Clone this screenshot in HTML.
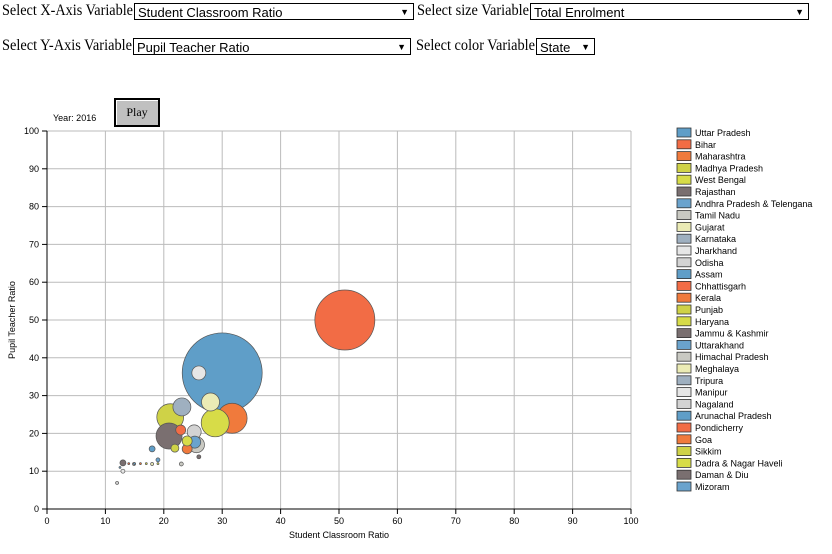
<!DOCTYPE html>
<html><head><meta charset="utf-8">
<style>
body{margin:0;width:832px;height:554px;background:#fff;position:relative;overflow:hidden;font-family:"Liberation Serif",serif;}
.lbl{position:absolute;font-size:16px;color:#000;white-space:nowrap;transform-origin:0 0;}
.sel{position:absolute;height:17px;border:1px solid #000;background:#fff;font-family:"Liberation Sans",sans-serif;font-size:13px;line-height:17px;padding-left:3px;box-sizing:border-box;}
.sel span.arr{position:absolute;right:4px;top:0;font-size:9px;}
#play{position:absolute;left:114px;top:98px;width:46px;height:29px;box-sizing:border-box;border:2px solid #000;background:#c0c0c0;font-family:"Liberation Serif",serif;font-size:12px;text-align:center;line-height:25px;box-shadow:inset 1px 1px 0 #fff;}
svg{position:absolute;left:0;top:0;}
</style></head><body>
<div class="lbl" data-w="131" style="left:2px;top:2px">Select X-Axis Variable</div>
<div class="sel" style="left:134px;top:3px;width:280px">Student Classroom Ratio<span class="arr">▼</span></div>
<div class="lbl" data-w="112" style="left:417px;top:2px">Select size Variable</div>
<div class="sel" style="left:530px;top:3px;width:279px">Total Enrolment<span class="arr">▼</span></div>
<div class="lbl" data-w="130" style="left:2px;top:37px">Select Y-Axis Variable</div>
<div class="sel" style="left:133px;top:38px;width:278px">Pupil Teacher Ratio<span class="arr">▼</span></div>
<div class="lbl" data-w="119" style="left:416px;top:37px">Select color Variable</div>
<div class="sel" style="left:536px;top:38px;width:59px">State<span class="arr">▼</span></div>
<div id="play">Play</div>
<svg id="chart" width="832" height="554"></svg>
<script>
const states=["Uttar Pradesh","Bihar","Maharashtra","Madhya Pradesh","West Bengal","Rajasthan","Andhra Pradesh & Telengana","Tamil Nadu","Gujarat","Karnataka","Jharkhand","Odisha","Assam","Chhattisgarh","Kerala","Punjab","Haryana","Jammu & Kashmir","Uttarakhand","Himachal Pradesh","Meghalaya","Tripura","Manipur","Nagaland","Arunachal Pradesh","Pondicherry","Goa","Sikkim","Dadra & Nagar Haveli","Daman & Diu","Mizoram"];
const xVals=[30,51,31.7,21.1,28.8,20.9,25.3,25.6,28,23.1,26,25.2,18,22.9,24,21.9,24,26,19,23,18,14.9,13,12,15,14,16,17,19,13,12.5];
const yVals=[36,50,24,24.3,22.8,19.3,17.7,17,28.3,27,36,20.4,15.9,20.9,15.9,16.1,18,13.8,13,11.9,11.9,11.9,10,6.9,12,12,12,12,12,12.2,11];
const sizeVals=[1600,900,225,180,196,170,36,64,81,81,49,49,9,25,25,16,25,4,4,4,2.25,2.25,4,2.25,1,1,1,1,1,9,1];
const xTicks=[0,10,20,30,40,50,60,70,80,90,100];
const yTicks=[0,10,20,30,40,50,60,70,80,90,100];
const palette=["#5f9ec8","#f26c45","#f07a3c","#cfd247","#d7dc48","#7a6f70","#6aa3cd","#c9c9c2","#ebebb5","#9fb0c0","#e6e6e6","#d3d3d3"];
document.querySelectorAll('.lbl').forEach(el=>{const w=el.getBoundingClientRect().width;el.style.transform='scaleX('+(parseFloat(el.dataset.w)/w)+')';});
const NS="http://www.w3.org/2000/svg";
const svg=document.getElementById('chart');
const X0=47,X1=631,Y0=509,Y1=131;
function sx(v){return X0+(X1-X0)*v/100;}
function sy(v){return Y0-(Y0-Y1)*v/100;}
function sr(v){return Math.sqrt(v);}
function mk(t,a){const e=document.createElementNS(NS,t);for(const k in a)e.setAttribute(k,a[k]);svg.appendChild(e);return e;}
xTicks.forEach(t=>{
 const l=mk('line',{x1:sx(t),x2:sx(t),y1:Y1,y2:Y0,stroke:'#bbb','stroke-width':1});
 
 
 const tk=mk('line',{x1:sx(t),x2:sx(t),y1:Y0,y2:Y0+5,stroke:'#000'});
 
 
 const tx=mk('text',{x:sx(t),y:Y0+15,'text-anchor':'middle','font-size':9,'font-family':'Liberation Sans, sans-serif'});
 tx.textContent=t;
 
 
});
yTicks.forEach(t=>{
 const l=mk('line',{x1:X0,x2:X1,y1:sy(t),y2:sy(t),stroke:'#bbb','stroke-width':1});
 
 
 const tk=mk('line',{x1:X0-5,x2:X0,y1:sy(t),y2:sy(t),stroke:'#000'});
 
 
 const tx=mk('text',{x:X0-8,y:sy(t)+3,'text-anchor':'end','font-size':9,'font-family':'Liberation Sans, sans-serif'});
 tx.textContent=t;
 
 
});
const xa=mk('line',{x1:X0,x2:X1,y1:Y0,y2:Y0,stroke:'#000'});


const ya=mk('line',{x1:X0,x2:X0,y1:Y1,y2:Y0,stroke:'#000'});


const xt=mk('text',{x:339,y:538,'text-anchor':'middle','font-size':9,'font-family':'Liberation Sans, sans-serif'});
xt.textContent='Student Classroom Ratio';


const yt=mk('text',{x:0,y:0,'text-anchor':'middle','font-size':9,'font-family':'Liberation Sans, sans-serif',transform:'translate(15,320) rotate(-90)'});
yt.textContent='Pupil Teacher Ratio';


const yr=mk('text',{x:53,y:121,'font-size':9,'font-family':'Liberation Sans, sans-serif'});
yr.textContent='Year: 2016';


const idx=states.map((s,i)=>i).sort((a,b)=>sizeVals[b]-sizeVals[a]);
idx.forEach(i=>{
 const c=mk('circle',{cx:sx(xVals[i]),cy:sy(yVals[i]),r:sr(sizeVals[i]),fill:palette[i%12],stroke:'#555','stroke-width':0.7});
 
 
});
states.forEach((s,i)=>{
 const y=132+i*11.8;
 const r=mk('rect',{x:677,y:y-4,width:14,height:9,fill:palette[i%12],stroke:'#333','stroke-width':0.8});
 
 
 const t=mk('text',{x:695,y:y+4,'font-size':9,'font-family':'Liberation Sans, sans-serif'});
 t.textContent=s;
 
 
});
</script>
</body></html>
